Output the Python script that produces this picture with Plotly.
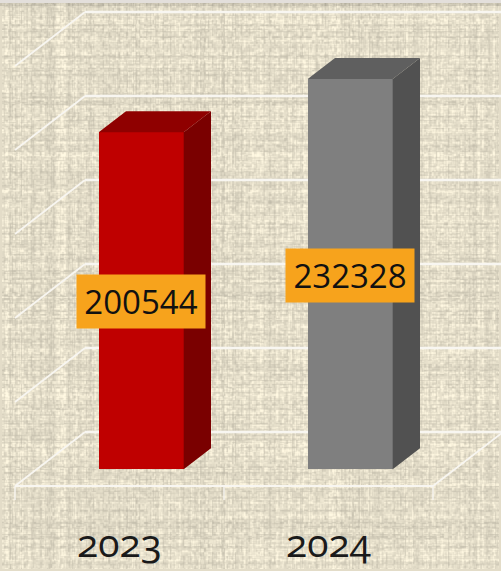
import base64, struct, zlib
import numpy as np
import plotly.graph_objects as go

# ---- data ----
years = ["2023", "2024"]
values = [200544, 232328]
front_colors = ["#bf0000", "#7f7f7f"]
side_colors = ["#7a0000", "#515151"]
top_colors = ["#8f0000", "#5f5f5f"]
grid_values = [0, 50000, 100000, 150000, 200000, 250000]
slots = [0.5, 1.5]
slot_edges = [0, 1, 2]

# ---- chart geometry (pixels) ----
W, H = 501, 571
BOTTOM = 54
PLOT_H = H - BOTTOM
FRONT_LEFT, SLOT_PX = 15, 209
FLOOR_Y = 486
DEPTH_X, DEPTH_Y = 70, 54
VAL_PER_PX = 50000 / 84
BAR_WIDTH = 85 / SLOT_PX
D0, D1 = 0.31, 0.70

def ele(v, d):
    """elevation on the y axis for value v at depth d"""
    return v + d * DEPTH_Y * VAL_PER_PX

def sx(s, d):
    return s + d * DEPTH_X / SLOT_PX

xrange_ = [-FRONT_LEFT / SLOT_PX, (W - FRONT_LEFT) / SLOT_PX]
yrange_ = [-(PLOT_H - FLOOR_Y) * VAL_PER_PX, FLOOR_Y * VAL_PER_PX]

# ---- woven background texture ----
def noise(a, seed):
    return np.modf(np.abs(np.sin(a * 12.9898 + seed) * 43758.5453))[0]

def texture():
    xs, ys = np.arange(W), np.arange(H)
    vx = noise(xs + 0.0, 1.3)[None, :] - 0.5
    hy = noise(ys + 0.0, 4.7)[:, None] - 0.5
    gx, gy = np.meshgrid(xs, ys)
    cell = noise(gx // 2 * 0.37 + gy // 2 * 1.91, 2.1) - 0.5
    warp = vx * (noise(gx * 0.11 + gy // 4 * 3.3, 0.4) > 0.45)
    weft = hy * (noise(gy * 0.13 + gx // 4 * 2.7, 0.9) > 0.45)
    lum = 224 + 46 * warp + 46 * weft + 22 * cell + 80 * warp * weft
    lum = np.clip(lum, 150, 255)
    kernel = np.array([0.15, 0.7, 0.15])
    lum = np.apply_along_axis(lambda c: np.convolve(c, kernel, "same"), 0, lum)
    lum = np.apply_along_axis(lambda c: np.convolve(c, kernel, "same"), 1, lum)
    lum[:2], lum[-2:], lum[:, :2], lum[:, -2:] = 224, 224, 224, 224
    rgb = np.stack([lum * 1.015, lum * 0.985, lum * 0.895], axis=2)
    rgb[:3] = [227, 223, 219]
    rgb[3:6] = rgb[3:6] * 0.88
    rgb = np.clip(rgb, 0, 255).astype(np.uint8)
    raw = b"".join(b"\x00" + rgb[i].tobytes() for i in range(H))
    def chunk(t, d):
        return struct.pack(">I", len(d)) + t + d + struct.pack(">I", zlib.crc32(t + d))
    png = (b"\x89PNG\r\n\x1a\n" + chunk(b"IHDR", struct.pack(">IIBBBBB", W, H, 8, 2, 0, 0, 0))
           + chunk(b"IDAT", zlib.compress(raw, 9)) + chunk(b"IEND", b""))
    return "data:image/png;base64," + base64.b64encode(png).decode()

fig = go.Figure()

# front faces
fig.add_bar(x=[sx(s, D0) for s in slots], y=values,
            base=[ele(0, D0)] * 2, width=BAR_WIDTH,
            marker=dict(color=front_colors, line=dict(width=0)),
            hoverinfo="skip", showlegend=False)

# top and side faces
for s, v, sc, tc in zip(slots, values, side_colors, top_colors):
    l, r = s - BAR_WIDTH / 2, s + BAR_WIDTH / 2
    fig.add_scatter(x=[sx(r, D0), sx(r, D1), sx(r, D1), sx(r, D0), sx(r, D0)],
                    y=[ele(0, D0), ele(0, D1), ele(v, D1), ele(v, D0), ele(0, D0)],
                    mode="lines", fill="toself", fillcolor=sc, line=dict(width=0),
                    hoverinfo="skip", showlegend=False)
    fig.add_scatter(x=[sx(l, D0), sx(l, D1), sx(r, D1), sx(r, D0), sx(l, D0)],
                    y=[ele(v, D0), ele(v, D1), ele(v, D1), ele(v, D0), ele(v, D0)],
                    mode="lines", fill="toself", fillcolor=tc, line=dict(width=0),
                    hoverinfo="skip", showlegend=False)

# walls, floor and ticks
GRID = "#f8f6f1"
shapes = []
def seg(x0, y0, x1, y1, w):
    shapes.append(dict(type="line", xref="x", yref="y", x0=x0, y0=y0, x1=x1, y1=y1,
                       line=dict(color=GRID, width=w), layer="below"))
for g in grid_values:
    seg(sx(slot_edges[0], 0), ele(g, 0), sx(slot_edges[0], 1), ele(g, 1), 1.8)
    seg(sx(slot_edges[0], 1), ele(g, 1), xrange_[1], ele(g, 1), 2.4)
seg(slot_edges[0], 0, slot_edges[-1], 0, 1.8)
seg(slot_edges[-1], 0, sx(slot_edges[-1], 1), ele(0, 1), 1.8)
for e in slot_edges:
    seg(e, 0, e, -14 * VAL_PER_PX, 1.4)

annotations = [
    dict(x=sx(s, D0), y=ele(0, D0) + v / 2, text=str(v), showarrow=False, xref="x", yref="y",
         font=dict(family="Open Sans", size=33, color="#111111"),
         bgcolor="#f7a31c", width=126, height=51, yshift=-1)
    for s, v in zip(slots, values)
]

fig.update_layout(
    width=W, height=H, margin=dict(l=0, r=0, t=0, b=BOTTOM, autoexpand=False),
    paper_bgcolor="#e0d9c5", plot_bgcolor="rgba(0,0,0,0)",
    bargap=0, shapes=shapes, annotations=annotations,
    images=[dict(source=texture(), xref="paper", yref="paper", x=0, y=1,
                 sizex=1, sizey=H / PLOT_H, sizing="stretch", xanchor="left", yanchor="top",
                 layer="below")],
    xaxis=dict(range=xrange_, tickmode="array", tickvals=slots, ticktext=years,
               automargin=False, showgrid=False, zeroline=False, showline=False, ticks="",
               tickfont=dict(family="Open Sans", size=39, color="#1a1a1a"),
               fixedrange=True),
    yaxis=dict(range=yrange_, visible=False, automargin=False, fixedrange=True),
)

POST = """
var st = document.createElement('style');
st.textContent = 'body{margin:0;overflow:hidden} .xtick text{font-feature-settings:"onum" 1;font-variant-numeric:oldstyle-nums}';
document.head.appendChild(st);
"""
fig.write_html("out.html", post_script=POST, config=dict(displayModeBar=False))
